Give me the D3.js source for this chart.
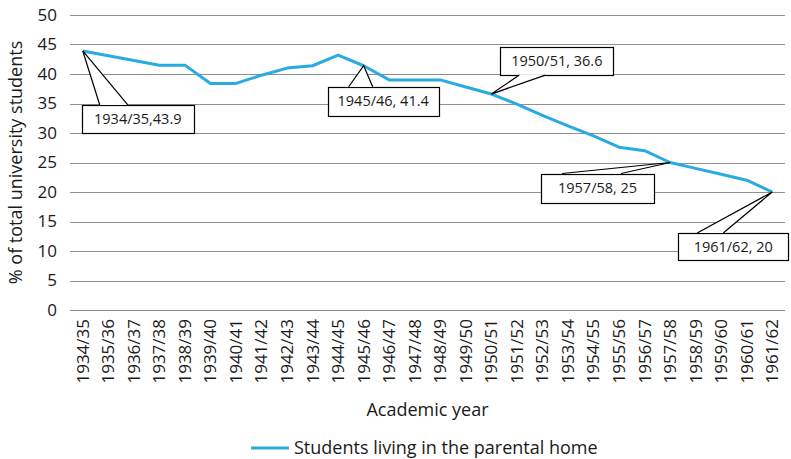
<!DOCTYPE html>
<html><head><meta charset="utf-8">
<script src="https://cdn.jsdelivr.net/npm/d3@7"></script>
<style>body{margin:0;background:#fff}svg{display:block}text{font-family:"Open Sans",sans-serif;fill:#1a1a1a}</style>
</head><body><svg id="c" width="791" height="459"></svg>
<script>
const years = ["1934/35","1935/36","1936/37","1937/38","1938/39","1939/40","1940/41","1941/42","1942/43","1943/44","1944/45","1945/46","1946/47","1947/48","1948/49","1949/50","1950/51","1951/52","1952/53","1953/54","1954/55","1955/56","1956/57","1957/58","1958/59","1959/60","1960/61","1961/62"];
const values = [43.9,43.1,42.3,41.5,41.5,38.4,38.4,39.8,41.0,41.4,43.2,41.4,39.0,39.0,39.0,37.8,36.6,34.9,33.0,31.2,29.5,27.6,27.0,25.0,24.0,23.0,22.0,20.0];
const yTicks = [0,5,10,15,20,25,30,35,40,45,50];
const seriesName = "Students living in the parental home";
const labelText = ["1934/35,43.9","1945/46, 41.4","1950/51, 36.6","1957/58, 25","1961/62, 20"];
const labelIndex = [0,11,16,23,27];
// callout geometry (pixel offsets from anchor): box left, top, width, height, pointer base x1,x2 relative to box left, base on top(t)/bottom(b)
const calloutGeom = [
  {bx:-1, by:54, w:112, h:28, p1:18, p2:46, side:"t"},
  {bx:-36, by:21, w:111, h:29, p1:21, p2:45, side:"t"},
  {bx:9, by:-47, w:113, h:28, p1:19, p2:45, side:"b"},
  {bx:-129, by:11, w:113, h:29, p1:21, p2:80, side:"t"},
  {bx:-94, by:41, w:110, h:27, p1:19, p2:45, side:"t"}
];

const svg = d3.select("#c");
const L=70, R=785, T=15, B=310;
const x = d3.scaleBand().domain(years).range([L,R]);
const y = d3.scaleLinear().domain([0,50]).range([B,T]);

// gridlines
svg.append("g").selectAll("line").data(yTicks).join("line")
  .attr("x1",L).attr("x2",R).attr("y1",d=>Math.round(y(d))+0.5).attr("y2",d=>Math.round(y(d))+0.5)
  .attr("stroke",d=>d===0?"#888":"#8f8f8f").attr("stroke-width",1);

// y axis labels
const yAxis = svg.append("g").attr("transform",`translate(${L},0)`)
  .call(d3.axisLeft(y).tickValues(yTicks).tickSize(0).tickPadding(13));
yAxis.select(".domain").remove();
yAxis.selectAll("text").style("font-family","'Open Sans',sans-serif").style("font-size","17px").attr("fill","#1a1a1a");

// x axis labels
const xAxis = svg.append("g").attr("transform",`translate(0,${B})`)
  .call(d3.axisBottom(x).tickSize(0).tickPadding(0));
xAxis.select(".domain").remove();
xAxis.selectAll("text").attr("transform","rotate(-90)").attr("text-anchor","end")
  .attr("x",-9).attr("y",0).attr("dy","0.35em")
  .style("font-family","'Open Sans',sans-serif").style("font-size","17px").attr("fill","#1a1a1a");

// axis titles
svg.append("text").attr("transform",`translate(22,${(T+B)/2}) rotate(-90)`).attr("text-anchor","middle")
  .style("font-size","18px").text("% of total university students");
svg.append("text").attr("x",(L+R)/2).attr("y",416).attr("text-anchor","middle")
  .style("font-size","18px").text("Academic year");

// line
const cx = d=>x(d)+x.bandwidth()/2;
svg.append("path").datum(values)
  .attr("d",d3.line().x((d,i)=>cx(years[i])).y(d=>y(d)))
  .attr("fill","none").attr("stroke","#29abe2").attr("stroke-width",3).attr("stroke-linejoin","round");

// callouts
labelIndex.forEach((idx,k)=>{
  const g = calloutGeom[k];
  const ax = cx(years[idx]), ay = y(values[idx]);
  const bl = ax+g.bx, bt = ay+g.by;
  const baseY = g.side==="t"? bt : bt+g.h;
  const grp = svg.append("g");
  grp.append("rect").attr("x",Math.round(bl)+0.5).attr("y",Math.round(bt)+0.5).attr("width",g.w).attr("height",g.h)
    .attr("fill","#fff").attr("stroke","#000").attr("stroke-width",1.2);
  grp.append("path").attr("d",`M${bl+g.p1},${baseY} L${ax},${ay} L${bl+g.p2},${baseY} Z`)
    .attr("fill","#fff").attr("stroke","none");
  grp.append("path").attr("d",`M${bl+g.p1},${baseY} L${ax},${ay} L${bl+g.p2},${baseY}`)
    .attr("fill","none").attr("stroke","#000").attr("stroke-width",1.2);
  grp.append("text").attr("x",bl+g.w/2).attr("y",bt+g.h/2).attr("dy","0.36em").attr("text-anchor","middle")
    .style("font-size","14.5px").text(labelText[k]);
});

// legend
svg.append("line").attr("x1",251).attr("x2",289).attr("y1",448).attr("y2",448).attr("stroke","#29abe2").attr("stroke-width",3);
svg.append("text").attr("x",294).attr("y",448).attr("dy","0.35em").style("font-size","18px").text(seriesName);
</script></body></html>
